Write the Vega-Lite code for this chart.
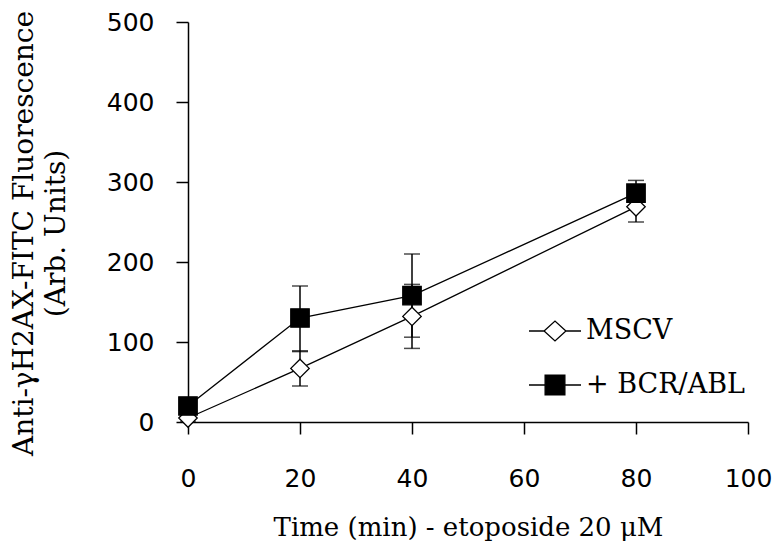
{
  "$schema": "https://vega.github.io/schema/vega-lite/v6.json",
  "autosize": {"type": "none"},
  "width": 560,
  "height": 400,
  "padding": {"left": 188, "top": 22, "right": 27, "bottom": 130},
  "background": "white",
  "config": {
    "view": {"stroke": null},
    "axis": {
      "grid": false,
      "domainColor": "black",
      "domainWidth": 1.5,
      "tickColor": "black",
      "tickWidth": 1.5,
      "tickSize": 12,
      "labelFlush": false,
      "labelFont": "DejaVu Sans",
      "labelFontSize": 25,
      "labelColor": "black",
      "titleFont": "DejaVu Serif",
      "titleFontWeight": "normal",
      "titleColor": "black"
    },
    "legend": {
      "orient": "none",
      "legendX": 340,
      "legendY": 282,
      "padding": 0,
      "symbolSize": 2704,
      "symbolOpacity": 1,
      "symbolStrokeColor": "black",
      "symbolStrokeWidth": 1.3,
      "labelFont": "DejaVu Serif",
      "labelFontSize": 27,
      "labelLimit": 400,
      "labelColor": "black",
      "labelOffset": 4,
      "rowPadding": 14
    }
  },
  "data": {
    "values": [
      {"series": "MSCV", "time": 0, "value": 5, "lo": 0, "hi": 10},
      {"series": "MSCV", "time": 20, "value": 67, "lo": 45, "hi": 89},
      {"series": "MSCV", "time": 40, "value": 132, "lo": 92, "hi": 172},
      {"series": "MSCV", "time": 80, "value": 269, "lo": 250, "hi": 288},
      {"series": "+ BCR/ABL", "time": 0, "value": 20, "lo": 15, "hi": 25},
      {"series": "+ BCR/ABL", "time": 20, "value": 130, "lo": 88, "hi": 170},
      {"series": "+ BCR/ABL", "time": 40, "value": 158, "lo": 106, "hi": 210},
      {"series": "+ BCR/ABL", "time": 80, "value": 286, "lo": 270, "hi": 302}
    ]
  },
  "encoding": {
    "x": {
      "field": "time",
      "type": "quantitative",
      "scale": {"domain": [0, 100], "nice": false},
      "axis": {
        "values": [0, 20, 40, 60, 80, 100],
        "labelPadding": 32,
        "title": "Time (min) - etoposide 20 μM",
        "titleFontSize": 26,
        "titlePadding": 23
      }
    }
  },
  "layer": [
    {
      "mark": {"type": "line", "color": "black", "strokeWidth": 1.3},
      "encoding": {
        "y": {
          "field": "value",
          "type": "quantitative",
          "title": ["Anti-γH2AX-FITC Fluorescence", "(Arb. Units)"],
          "scale": {"domain": [0, 500], "nice": false},
          "axis": {
            "values": [0, 100, 200, 300, 400, 500],
            "labelPadding": 22,
            "titleFontSize": 28,
            "titleLineHeight": 32,
            "titlePadding": 36,
            "titleY": 211
          }
        },
        "detail": {"field": "series"}
      }
    },
    {
      "mark": {
        "type": "errorbar",
        "ticks": {"size": 16, "thickness": 1.5, "color": "black"},
        "rule": {"strokeWidth": 1.5, "color": "black"}
      },
      "encoding": {
        "y": {"field": "lo", "type": "quantitative", "title": ["Anti-γH2AX-FITC Fluorescence", "(Arb. Units)"]},
        "y2": {"field": "hi"},
        "detail": {"field": "series"}
      }
    },
    {
      "mark": {"type": "point", "filled": true, "stroke": "black", "strokeWidth": 1.3, "opacity": 1, "size": 340},
      "encoding": {
        "y": {"field": "value", "type": "quantitative", "title": ["Anti-γH2AX-FITC Fluorescence", "(Arb. Units)"]},
        "shape": {
          "condition": {"test": "datum.series === 'MSCV'", "value": "diamond"},
          "value": "square"
        },
        "fill": {
          "condition": {"test": "datum.series === 'MSCV'", "value": "white"},
          "value": "black"
        }
      }
    },
    {
      "mark": {"type": "point", "filled": true, "stroke": "black", "strokeWidth": 1.3, "opacity": 0},
      "encoding": {
        "y": {"field": "value", "type": "quantitative", "title": ["Anti-γH2AX-FITC Fluorescence", "(Arb. Units)"]},
        "shape": {
          "field": "series",
          "type": "nominal",
          "title": null,
          "scale": {
            "domain": ["MSCV", "+ BCR/ABL"],
            "range": [
              "M-1,0H-0.42M0.42,0H1M-0.42,0L0,-0.38L0.42,0L0,0.38Z",
              "M-1,0H-0.38M0.38,0H1M-0.38,-0.38H0.38V0.38H-0.38Z"
            ]
          },
          "legend": {
            "encode": {
              "symbols": {
                "update": {
                  "stroke": {"value": "black"},
                  "strokeWidth": {"value": 1.3},
                  "opacity": {"value": 1}
                }
              }
            }
          }
        },
        "fill": {
          "field": "series",
          "type": "nominal",
          "title": null,
          "scale": {"domain": ["MSCV", "+ BCR/ABL"], "range": ["white", "black"]},
          "legend": {
            "encode": {
              "symbols": {
                "update": {
                  "stroke": {"value": "black"},
                  "strokeWidth": {"value": 1.3},
                  "opacity": {"value": 1}
                }
              }
            }
          }
        }
      }
    }
  ]
}
